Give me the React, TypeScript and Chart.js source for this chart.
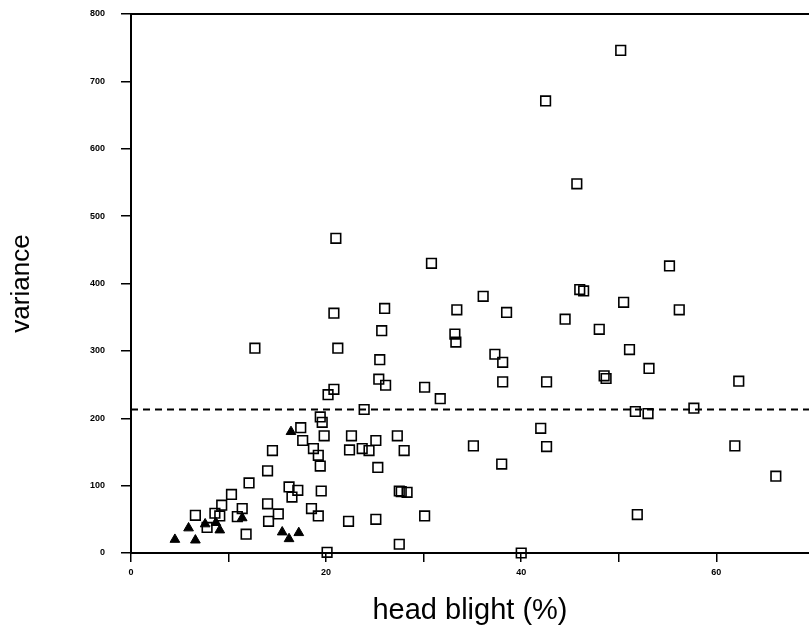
import React, { useEffect, useRef } from "react";
import { Chart, registerables } from "chart.js";

Chart.register(...registerables);

// open squares: head blight (%) and variance
const squareX = [
  50.2, 42.5, 45.7, 21.0, 30.8, 55.2, 36.1, 46.0, 46.4, 50.5,
  56.2, 20.8, 26.0, 33.4, 38.5, 44.5, 48.0, 25.7, 33.2, 33.3,
  21.2, 12.7, 51.1, 37.3, 38.1, 25.5, 53.1, 48.5, 48.7, 25.4,
  26.1, 30.1, 38.1, 42.6, 62.3, 20.8, 20.2, 31.7, 23.9, 51.7,
  53.0, 57.7, 19.4, 19.6, 17.4, 42.0, 19.8, 22.6, 27.3, 17.6,
  25.1, 35.1, 42.6, 61.9, 18.7, 22.4, 23.7, 24.4, 28.0, 14.5,
  19.2, 38.0, 19.4, 25.3, 14.0, 66.1, 12.1, 16.2, 17.1, 19.5,
  16.5, 27.5, 27.7, 28.3, 10.3, 9.3, 14.0, 11.4, 18.5, 15.1,
  14.1, 8.6, 9.1, 6.6, 7.8, 10.9, 11.8, 19.2, 22.3, 25.1,
  30.1, 51.9, 27.5, 20.1, 40.0,
];
const squareY = [
  746, 671, 548, 467, 430, 426, 381, 391, 389, 372,
  361, 356, 363, 361, 357, 347, 332, 330, 325, 313,
  304, 304, 302, 295, 283, 287, 274, 263, 259, 258,
  249, 246, 254, 254, 255, 243, 235, 229, 213, 210,
  207, 215, 202, 194, 186, 185, 174, 174, 174, 167,
  167, 159, 158, 159, 155, 153, 155, 152, 152, 152,
  145, 132, 129, 127, 122, 114, 104, 98, 93, 92,
  83, 92, 91, 90, 87, 71, 73, 66, 66, 58,
  47, 59, 55, 56, 38, 54, 28, 55, 47, 50,
  55, 57, 13, 1, 0,
];

// filled triangles
const triangleX = [4.5, 5.9, 6.6, 7.6, 8.7, 9.1, 11.4, 15.5, 16.2, 17.2, 16.4];
const triangleY = [20, 37, 19, 43, 45, 34, 52, 31, 21, 30, 180];

// dashed reference level
const thresholdY = 213;

// axes
const xMin = 0;
const xMax = 69.5;
const yMin = 0;
const yMax = 800;
const xStep = 10;
const xLabelEvery = 20;
const yStep = 100;

const xTitle = "head blight (%)";
const yTitle = "variance";

const FONT = "'Liberation Sans', Arial, Helvetica, sans-serif";

const topBorder = {
  id: "topBorder",
  afterDatasetsDraw(chart: any) {
    const { ctx, chartArea } = chart;
    ctx.save();
    ctx.strokeStyle = "#000";
    ctx.lineWidth = 2;
    ctx.beginPath();
    ctx.moveTo(chartArea.left - 1, chartArea.top);
    ctx.lineTo(chartArea.right, chartArea.top);
    ctx.stroke();
    ctx.restore();
  },
};

export default function App() {
  const ref = useRef<HTMLCanvasElement | null>(null);

  useEffect(() => {
    if (!ref.current) return;
    const squares = squareX.map((x, i) => ({ x, y: squareY[i] }));
    const triangles = triangleX.map((x, i) => ({ x, y: triangleY[i] }));
    const chart = new Chart(ref.current, {
      type: "scatter",
      data: {
        datasets: [
          {
            type: "line",
            label: "threshold",
            data: [
              { x: xMin, y: thresholdY },
              { x: xMax, y: thresholdY },
            ],
            borderColor: "#000",
            borderWidth: 2,
            borderDash: [7, 5],
            pointRadius: 0,
            fill: false,
            clip: false,
          } as any,
          {
            label: "squares",
            data: squares,
            pointStyle: "rect",
            pointRadius: 6.8,
            pointBorderWidth: 1.6,
            pointBorderColor: "#000",
            pointBackgroundColor: "rgba(0,0,0,0)",
            borderColor: "#000",
            backgroundColor: "rgba(0,0,0,0)",
            clip: false,
          } as any,
          {
            label: "triangles",
            data: triangles,
            pointStyle: "triangle",
            pointRadius: 5.6,
            pointBorderWidth: 1,
            pointBorderColor: "#000",
            pointBackgroundColor: "#000",
            borderColor: "#000",
            backgroundColor: "#000",
            clip: false,
          } as any,
        ],
      },
      options: {
        responsive: false,
        animation: false,
        devicePixelRatio: 1,
        layout: { autoPadding: false, padding: { top: 14, right: 0, bottom: 0, left: 0 } },
        plugins: {
          legend: { display: false },
          tooltip: { enabled: false },
        },
        scales: {
          x: {
            type: "linear",
            min: xMin,
            max: xMax,
            afterFit: (s: any) => {
              s.height = 81;
              s.paddingLeft = 0;
              s.paddingRight = 0;
            },
            ticks: {
              stepSize: xStep,
              includeBounds: false,
              autoSkip: false,
              maxRotation: 0,
              padding: 5,
              color: "#000",
              font: { family: FONT, size: 9, weight: "bold" },
              callback: (v: any) => (Number(v) % xLabelEvery === 0 ? String(v) : ""),
            },
            grid: {
              display: true,
              drawOnChartArea: false,
              drawTicks: true,
              tickLength: 9,
              color: "#000",
              lineWidth: 1.5,
            },
            border: { display: true, color: "#000", width: 2 },
            title: {
              display: true,
              text: xTitle,
              color: "#000",
              font: { family: FONT, size: 29 },
              padding: { top: 0, bottom: 6 },
            },
          },
          y: {
            type: "linear",
            min: yMin,
            max: yMax,
            afterFit: (s: any) => {
              s.width = 131;
              s.paddingTop = 0;
              s.paddingBottom = 0;
            },
            ticks: {
              stepSize: yStep,
              padding: 16,
              color: "#000",
              font: { family: FONT, size: 9, weight: "bold" },
            },
            grid: {
              display: true,
              drawOnChartArea: false,
              drawTicks: true,
              tickLength: 10,
              color: "#000",
              lineWidth: 1.5,
            },
            border: { display: true, color: "#000", width: 2 },
            title: {
              display: true,
              text: yTitle,
              color: "#000",
              font: { family: FONT, size: 26 },
              padding: { top: 6, bottom: 0 },
            },
          },
        },
      } as any,
      plugins: [topBorder],
    });
    return () => chart.destroy();
  }, []);

  return (
    <div
      style={{
        position: "fixed",
        left: 0,
        top: 0,
        width: 809,
        height: 634,
        overflow: "hidden",
        background: "#fff",
      }}
    >
      <canvas ref={ref} width={809} height={634} style={{ display: "block" }} />
    </div>
  );
}
